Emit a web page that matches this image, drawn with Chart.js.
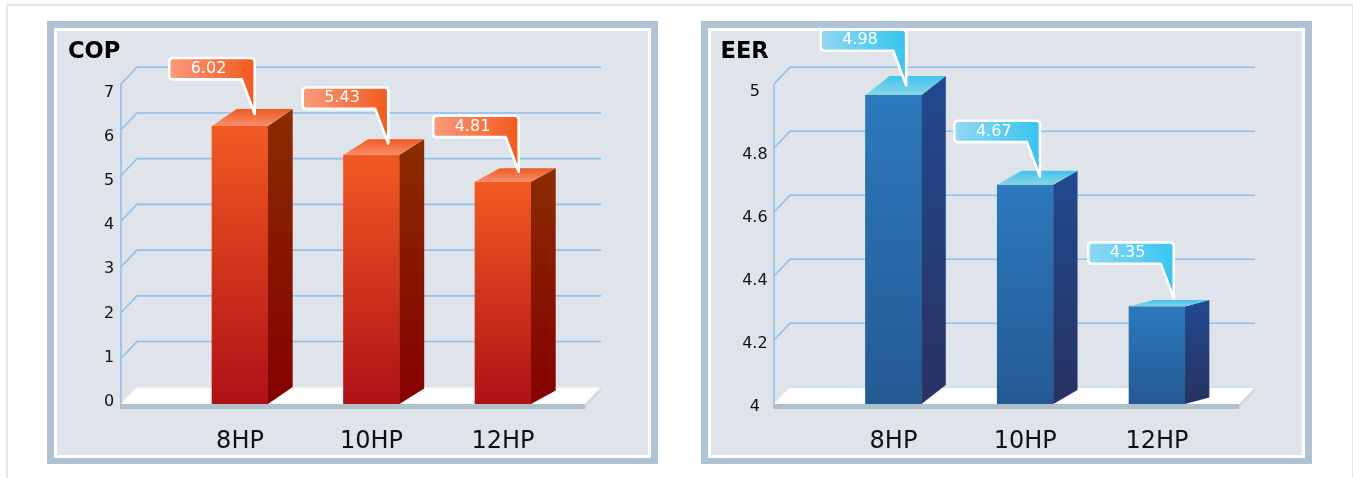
<!DOCTYPE html>
<html>
<head>
<meta charset="utf-8">
<style>
html, body { margin: 0; padding: 0; background: #fff; overflow: hidden; }
#page { position: absolute; left: 6px; top: 4px; width: 1344px; height: 600px; border: 2px solid #e8e8e8; }
.panel { position: absolute; top: 21px; width: 591px; height: 424px; border: 7px solid #b0c3d4; border-bottom-width: 6px; padding: 3px; background: #fff; }
canvas { display: block; background: #dfe4eb; }
</style>
</head>
<body>
<div id="page"></div>
<div class="panel" style="left:47px"><canvas id="cop" width="591" height="424"></canvas></div>
<div class="panel" style="left:701px"><canvas id="eer" width="591" height="424"></canvas></div>
<script src="https://cdn.jsdelivr.net/npm/chart.js@4"></script>
<script>
const categories = ['8HP', '10HP', '12HP'];

// bar heights, the callouts print slightly different numbers
const copValues = [6.08, 5.45, 4.86];
const copCallouts = ['6.02', '5.43', '4.81'];
const copTicks = [0, 1, 2, 3, 4, 5, 6, 7];

const eerValues = [4.965, 4.685, 4.305];
const eerCallouts = ['4.98', '4.67', '4.35'];
const eerTicks = [4, 4.2, 4.4, 4.6, 4.8, 5];

const FONT = '"DejaVu Sans", sans-serif';

function poly(c, pts) {
    c.beginPath();
    pts.forEach((p, i) => i ? c.lineTo(p[0], p[1]) : c.moveTo(p[0], p[1]));
    c.closePath();
}

function vGrad(c, y0, y1, a, b) {
    const g = c.createLinearGradient(0, y0, 0, y1);
    g.addColorStop(0, a);
    g.addColorStop(1, b);
    return g;
}

// back wall lines and the floor slab
const wallPlugin = {
    id: 'wall',
    beforeDatasetsDraw(chart, args, o) {
        const c = chart.ctx;
        const y = chart.scales.y;
        const base = y.bottom;
        const dx = 16, dy = 16.7;
        c.save();
        c.strokeStyle = '#8fc0e8';
        c.lineWidth = 1.6;
        o.ticks.slice(1).forEach(v => {
            const py = y.getPixelForValue(v);
            c.beginPath();
            c.moveTo(o.x0, py);
            c.lineTo(o.x0 + dx, py - dy);
            c.lineTo(o.x1 + dx, py - dy);
            c.stroke();
        });
        c.beginPath();
        c.moveTo(o.x0, y.top);
        c.lineTo(o.x0, base);
        c.stroke();
        // floor
        c.fillStyle = '#fff';
        poly(c, [[o.x0, base], [o.x0 + dx, base - dy], [o.x1 + dx, base - dy], [o.x1, base]]);
        c.fill();
        c.strokeStyle = o.floorEdge;
        c.lineWidth = 1;
        c.beginPath();
        c.moveTo(o.x0 + dx, base - dy);
        c.lineTo(o.x1 + dx, base - dy);
        c.stroke();
        c.fillStyle = '#d6d9dc';
        poly(c, [[o.x1, base], [o.x1 + dx, base - dy], [o.x1 + dx, base - dy + 4], [o.x1, base + 5]]);
        c.fill();
        c.fillStyle = '#b0c1cb';
        c.fillRect(o.x0 - 1, base, o.x1 - o.x0 + 1, 5);
        c.restore();
    }
};

// side and top faces of the bars, then the callouts
const barFacePlugin = {
    id: 'faces',
    afterDatasetsDraw(chart, args, o) {
        const c = chart.ctx;
        const bars = chart.getDatasetMeta(0).data;
        const bottom = chart.scales.y.bottom;
        c.save();
        bars.forEach((b, i) => {
            const right = b.x + b.width / 2;
            const left = b.x - b.width / 2;
            const top = b.y;
            const rise = o.rise[i];
            c.fillStyle = vGrad(c, top - rise, bottom - rise, o.sideTop, o.sideBottom);
            poly(c, [[right, top], [right + o.depth, top - rise], [right + o.depth, bottom - rise], [right, bottom]]);
            c.fill();
            c.fillStyle = vGrad(c, top - rise, top, o.capBack, o.capFront);
            poly(c, [[left, top], [left + o.depth, top - rise], [right + o.depth, top - rise], [right, top]]);
            c.fill();
        });
        bars.forEach((b, i) => {
            const tipX = b.x + b.width / 2 - o.tipIn[i];
            const tipY = b.y - o.tipLift[i];
            const R = tipX - 1.3;
            const L = R - 85.5;
            const B = tipY - 37.6;
            const T = B - 21.4;
            const r = 4;
            c.beginPath();
            c.moveTo(L + r, T);
            c.lineTo(R - r, T);
            c.quadraticCurveTo(R, T, R, T + r);
            c.lineTo(R, tipY - 3);
            c.lineTo(R - 13, B);
            c.lineTo(L + r, B);
            c.quadraticCurveTo(L, B, L, B - r);
            c.lineTo(L, T + r);
            c.quadraticCurveTo(L, T, L + r, T);
            c.closePath();
            const g = c.createLinearGradient(L, 0, R, 0);
            g.addColorStop(0, o.tagLeft);
            g.addColorStop(1, o.tagRight);
            c.fillStyle = g;
            c.fill();
            c.strokeStyle = '#fff';
            c.lineWidth = 2.6;
            c.lineJoin = 'round';
            c.stroke();
            c.fillStyle = '#fff';
            c.font = '16px ' + FONT;
            c.textAlign = 'center';
            c.textBaseline = 'middle';
            c.fillText(o.callouts[i], tipX - 47.5, (T + B) / 2);
        });
        c.restore();
    }
};

function makeChart(id, cfg) {
    return new Chart(document.getElementById(id), {
        type: 'bar',
        data: {
            labels: categories,
            datasets: [{
                data: cfg.values,
                base: cfg.ticks[0],
                barThickness: 56,
                borderWidth: 0,
                backgroundColor: ctx => {
                    const y = ctx.chart.scales.y;
                    const top = y ? y.getPixelForValue(ctx.raw) : NaN;
                    // also called before layout has placed the scale
                    if (!isFinite(top) || !isFinite(y.bottom)) return cfg.faceTop;
                    return vGrad(ctx.chart.ctx, top, y.bottom, cfg.faceTop, cfg.faceBottom);
                }
            }]
        },
        plugins: [wallPlugin, barFacePlugin],
        options: {
            responsive: false,
            animation: false,
            layout: { padding: { left: cfg.padLeft, right: cfg.padRight, top: 0, bottom: 0 } },
            scales: {
                x: {
                    grid: { display: false, drawTicks: false },
                    border: { display: false },
                    ticks: { color: '#111', font: { family: FONT, size: 24 }, padding: 23.5, maxRotation: 0 },
                    afterFit: s => { s.height = 51; }
                },
                // bars and wall lines run on this one
                y: {
                    display: false,
                    min: cfg.ticks[0],
                    max: cfg.ticks[cfg.ticks.length - 1]
                },
                // the printed tick labels sit on a slightly different spacing than the wall lines
                yTicks: {
                    position: 'left',
                    min: cfg.labelMin,
                    max: cfg.labelMax,
                    grid: { display: false, drawTicks: false },
                    border: { display: false },
                    afterBuildTicks: s => { s.ticks = cfg.ticks.map(v => ({ value: v })); },
                    afterFit: s => {
                        s.width = cfg.axisWidth;
                        s.paddingTop = 0;
                        s.paddingBottom = 0;
                    },
                    ticks: {
                        autoSkip: false,
                        crossAlign: 'center',
                        padding: 60,
                        color: '#111',
                        font: { family: FONT, size: 16 },
                        callback: v => String(v)
                    }
                }
            },
            plugins: {
                legend: { display: false },
                tooltip: { enabled: false },
                title: {
                    display: true,
                    text: cfg.title,
                    align: 'start',
                    color: '#000',
                    font: { family: FONT, size: 22.6, weight: 'bold' },
                    padding: { top: 7.4, bottom: 18.4 }
                },
                wall: { ticks: cfg.ticks, x0: cfg.x0, x1: cfg.x1, floorEdge: cfg.floorEdge },
                faces: {
                    callouts: cfg.callouts,
                    depth: cfg.depth,
                    rise: cfg.rise,
                    tipIn: cfg.tipIn,
                    tipLift: cfg.tipLift,
                    sideTop: cfg.sideTop,
                    sideBottom: cfg.sideBottom,
                    capBack: cfg.capBack,
                    capFront: cfg.capFront,
                    tagLeft: cfg.tagLeft,
                    tagRight: cfg.tagRight
                }
            }
        }
    });
}

makeChart('cop', {
    title: 'COP',
    values: copValues,
    callouts: copCallouts,
    ticks: copTicks,
    labelMin: -0.052,
    labelMax: 7.197,
    padLeft: 11,
    padRight: 79.25,
    axisWidth: 106.25,
    x0: 64, x1: 528,
    floorEdge: '#e8edf0',
    depth: 24.7,
    rise: [17, 15.5, 13.5],
    tipIn: [12, 10, 11],
    tipLift: [9, 8.3, 7],
    faceTop: '#f25a22', faceBottom: '#ad1116',
    sideTop: '#8a2c00', sideBottom: '#850300',
    capBack: '#ee5a22', capFront: '#f98e6c',
    tagLeft: '#fa9a7c', tagRight: '#f25a1e'
});

makeChart('eer', {
    title: 'EER',
    values: eerValues,
    callouts: eerCallouts,
    ticks: eerTicks,
    labelMin: 4.0095,
    labelMax: 5.0254,
    padLeft: 9.5,
    padRight: 79.1,
    axisWidth: 107.1,
    x0: 63, x1: 528,
    floorEdge: '#c3d6e8',
    depth: 24.3,
    rise: [19, 14, 6.5],
    tipIn: [14, 12, 10],
    tipLift: [6.7, 5, 5],
    faceTop: '#2c79bd', faceBottom: '#245a94',
    sideTop: '#21498f', sideBottom: '#283465',
    capBack: '#42c4ec', capFront: '#88d4e4',
    tagLeft: '#90d8f2', tagRight: '#38c5ef'
});
</script>
</body>
</html>
